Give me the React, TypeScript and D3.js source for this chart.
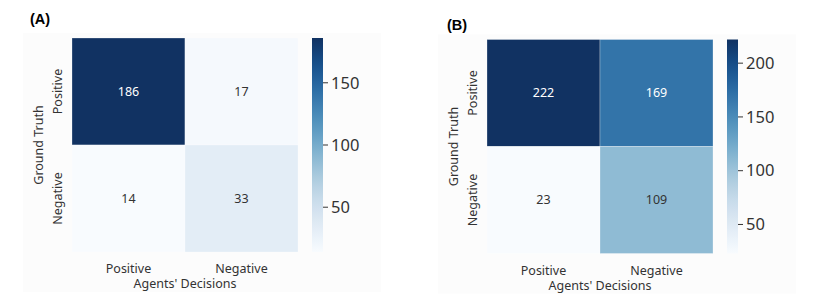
import * as d3 from "d3";

const decisions = ["Positive", "Negative"];
const truths = ["Positive", "Negative"];

const matrixA = [
  [186, 17],
  [14, 33],
];
const matrixB = [
  [222, 169],
  [23, 109],
];

const ticksA = [50, 100, 150];
const ticksB = [50, 100, 150, 200];

const FONT = "'Noto Sans', 'Open Sans', sans-serif";
const TEXT = "#333";

// the source figure is a little washed out compared with pure Blues
const blues = (t: number) => {
  const c = d3.hsl(d3.interpolateBlues(t));
  c.s *= 0.82;
  return c.formatHex();
};

type PanelProps = {
  id: string;
  matrix: number[][];
  ticks: number[];
  dx: number;
  dy: number;
};

const Panel = ({ id, matrix, ticks, dx, dy }: PanelProps) => {
  const left = 72;
  const top = 38;
  const w = 226;
  const h = 214;

  const flat = matrix.flat();
  const extent = d3.extent(flat) as [number, number];
  const color = d3.scaleSequential(blues).domain(extent);

  const x = d3.scaleBand<string>().domain(decisions).range([left, left + w]);
  const y = d3.scaleBand<string>().domain(truths).range([top, top + h]);

  const cbX = left + w + 14;
  const cbW = 11;
  const cbY = d3.scaleLinear().domain(extent).range([top + h, top]);

  const stops = d3.range(0, 1.0001, 0.05);

  return (
    <g transform={`translate(${dx},${dy})`}>
      <rect x={23} y={top - 5} width={358} height={h + 45} fill="#fcfcfc" />
      <defs>
        <linearGradient id={`grad-${id}`} x1="0" y1="1" x2="0" y2="0">
          {stops.map((t) => (
            <stop key={t} offset={`${t * 100}%`} stopColor={blues(t)} />
          ))}
        </linearGradient>
      </defs>

      {matrix.map((row, i) =>
        row.map((v, j) => (
          <g key={`${i}-${j}`}>
            <rect
              x={x(decisions[j])}
              y={y(truths[i])}
              width={x.bandwidth()}
              height={y.bandwidth()}
              fill={color(v)}
              stroke="#fff"
              strokeOpacity={0.35}
              strokeWidth={0.8}
            />
            <text
              x={(x(decisions[j]) as number) + x.bandwidth() / 2}
              y={(y(truths[i]) as number) + y.bandwidth() / 2}
              dy="0.35em"
              textAnchor="middle"
              fontFamily={FONT}
              fontSize={12.5}
              fill={(v - extent[0]) / (extent[1] - extent[0]) > 0.5 ? "#fff" : TEXT}
            >
              {v}
            </text>
          </g>
        ))
      )}

      {decisions.map((d) => (
        <text
          key={`xt-${d}`}
          x={(x(d) as number) + x.bandwidth() / 2}
          y={top + h + 21}
          textAnchor="middle"
          fontFamily={FONT}
          fontSize={12.5}
          fill={TEXT}
        >
          {d}
        </text>
      ))}
      <text
        x={left + w / 2}
        y={top + h + 36}
        textAnchor="middle"
        fontFamily={FONT}
        fontSize={12.5}
        fill={TEXT}
      >
        Agents' Decisions
      </text>

      {truths.map((t) => (
        <text
          key={`yt-${t}`}
          transform={`translate(${left - 10},${(y(t) as number) + y.bandwidth() / 2}) rotate(-90)`}
          textAnchor="middle"
          fontFamily={FONT}
          fontSize={12.5}
          fill={TEXT}
        >
          {t}
        </text>
      ))}
      <text
        transform={`translate(${left - 29},${top + h / 2}) rotate(-90)`}
        textAnchor="middle"
        fontFamily={FONT}
        fontSize={12.5}
        fill={TEXT}
      >
        Ground Truth
      </text>

      <rect x={cbX} y={top} width={cbW} height={h} fill={`url(#grad-${id})`} />
      {ticks.map((t) => (
        <g key={`cb-${t}`} transform={`translate(${cbX + cbW},${cbY(t)})`}>
          <line x1={0} x2={5} y1={0} y2={0} stroke={TEXT} strokeWidth={1} />
          <text x={8} dy="0.35em" fontFamily={FONT} fontSize={16.5} fill={TEXT}>
            {t}
          </text>
        </g>
      ))}
    </g>
  );
};

export default function App() {
  return (
    <svg
      width={816}
      height={304}
      style={{ position: "absolute", left: 0, top: 0, background: "#fff" }}
    >
      <Panel id="A" matrix={matrixA} ticks={ticksA} dx={0} dy={0} />
      <Panel id="B" matrix={matrixB} ticks={ticksB} dx={415} dy={1.5} />
      <text x={30} y={24} fontFamily="Arial, 'Liberation Sans', sans-serif" fontWeight="bold" fontSize={14.5} fill="#000">
        (A)
      </text>
      <text x={447} y={30} fontFamily="Arial, 'Liberation Sans', sans-serif" fontWeight="bold" fontSize={14.5} fill="#000">
        (B)
      </text>
    </svg>
  );
}
